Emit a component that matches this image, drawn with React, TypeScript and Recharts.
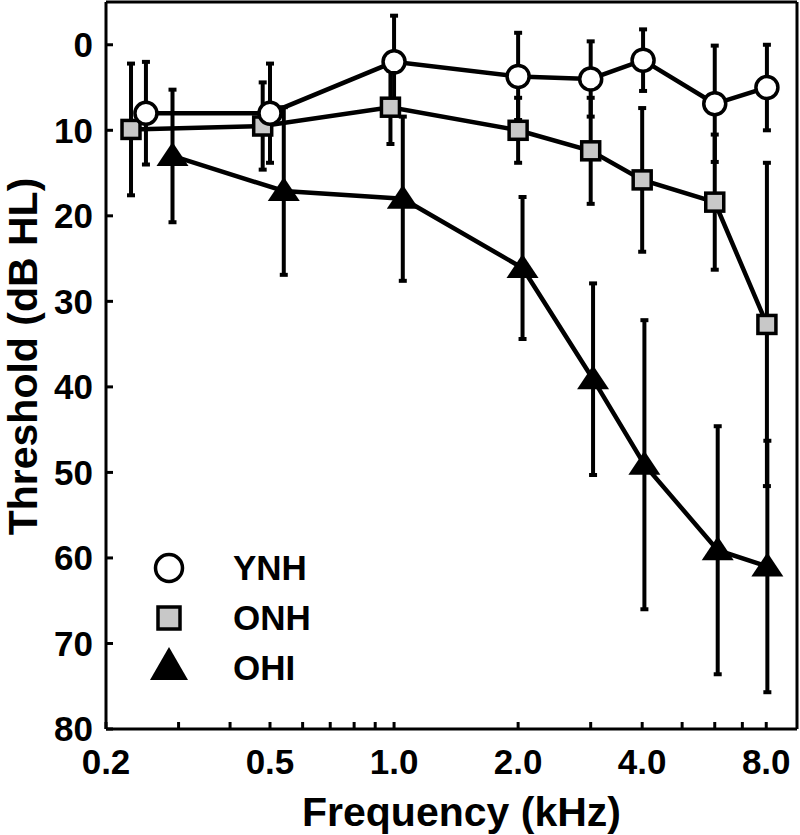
import { ErrorBar, Legend, Scatter, ScatterChart, XAxis, YAxis } from "recharts";

// frequencies are slightly jittered per group, as in the original figure
const ynhFreq = [0.25, 0.5, 1.0, 2.0, 3.0, 4.02, 6.0, 8.03];
const ynhThr = [8, 8, 2, 3.7, 4, 1.8, 6.9, 5];
const ynhSd = [6, 5.8, 5.4, 5.1, 4.4, 3.6, 6.8, 5];

const onhFreq = [0.23, 0.48, 0.98, 2.0, 3.0, 4.0, 6.0, 8.03];
const onhThr = [9.9, 9.5, 7.3, 10, 12.4, 15.8, 18.4, 32.7];
const onhSd = [7.7, 5.1, 4.3, 3.8, 6.2, 8.4, 7.9, 18.9];

const ohiFreq = [0.29, 0.54, 1.05, 2.05, 3.04, 4.05, 6.1, 8.05];
const ohiThr = [13, 17.1, 18, 26.1, 39.1, 49.1, 59.1, 61];
const ohiSd = [7.75, 9.8, 9.6, 8.3, 11.2, 16.9, 14.5, 14.7];

const freqTicks = [0.2, 0.3, 0.4, 0.5, 0.6, 0.7, 0.8, 0.9, 1, 2, 3, 4, 5, 6, 7, 8];
const freqLabels: Record<string, string> = {
  "0.2": "0.2",
  "0.5": "0.5",
  "1": "1.0",
  "2": "2.0",
  "4": "4.0",
  "8": "8.0",
};
const thrTicks = [0, 10, 20, 30, 40, 50, 60, 70, 80];

const FONT = "'Liberation Sans', Arial, Helvetica, sans-serif";

function rows(f: number[], v: number[], e: number[]) {
  return f.map((x, i) => ({ f: x, v: v[i], e: e[i] }));
}

const CircleMark = (p: any) => (
  <circle cx={p.cx} cy={p.cy} r={11} fill="#fff" stroke="#000" strokeWidth={3.5} />
);
const SquareMark = (p: any) => (
  <rect x={p.cx - 9} y={p.cy - 9} width={18} height={18} fill="#c8c8c8" stroke="#000" strokeWidth={3.5} />
);
const TriangleMark = (p: any) => (
  <polygon
    points={`${p.cx},${p.cy - 14} ${p.cx + 16},${p.cy + 10} ${p.cx - 16},${p.cy + 10}`}
    fill="#000"
  />
);

function LegendBox() {
  const txt = { fontFamily: FONT, fontWeight: 700, fontSize: 35, fill: "#000" };
  return (
    <svg width={200} height={150}>
      <circle cx={29} cy={28} r={13.5} fill="#fff" stroke="#000" strokeWidth={3.5} />
      <text x={93} y={40} {...txt}>YNH</text>
      <rect x={18} y={67} width={22} height={22} fill="#c8c8c8" stroke="#000" strokeWidth={3.5} />
      <text x={93} y={90} {...txt}>ONH</text>
      <polygon points="29,107 48,140 10,140" fill="#000" />
      <text x={93} y={140} {...txt}>OHI</text>
    </svg>
  );
}

const axisLine = { stroke: "#000", strokeWidth: 3 };
const tickStyle = { fill: "#000", fontSize: 35, fontWeight: 700, fontFamily: FONT };

// a series' joining line: Scatter passes its own props first, the line object last
const seriesLine = { stroke: "#000", strokeWidth: 4.5 };

function Bars() {
  return <ErrorBar dataKey="e" direction="y" width={4} stroke="#000" strokeWidth={4} />;
}

export default function App() {
  return (
    <div style={{ position: "absolute", left: 0, top: 0, background: "#fff" }}>
      <ScatterChart width={800} height={835} margin={{ top: 1, right: 2, bottom: 0, left: 0 }}>
        <XAxis
          dataKey="f"
          type="number"
          scale="log"
          domain={[0.2, 9.5]}
          allowDataOverflow
          ticks={freqTicks}
          interval={0}
          tickFormatter={(t: number) => freqLabels[String(t)] ?? ""}
          height={106}
          tickSize={-7}
          tickMargin={27}
          axisLine={axisLine}
          tickLine={axisLine}
          tick={tickStyle}
          label={{
            value: "Frequency (kHz)",
            position: "insideBottom",
            offset: 9,
            dx: 10,
            style: { fill: "#000", fontSize: 41, fontWeight: 700, fontFamily: FONT },
          }}
        />
        <XAxis
          xAxisId="top"
          orientation="top"
          type="number"
          scale="log"
          domain={[0.2, 9.5]}
          allowDataOverflow
          ticks={freqTicks}
          interval={0}
          height={1}
          tickSize={-7}
          tick={false}
          axisLine={axisLine}
          tickLine={axisLine}
        />
        <YAxis
          dataKey="v"
          type="number"
          reversed
          domain={[-5, 80]}
          allowDataOverflow
          ticks={thrTicks}
          interval={0}
          width={106}
          tickSize={-7}
          tickMargin={20}
          axisLine={axisLine}
          tickLine={axisLine}
          tick={tickStyle}
          label={{
            value: "Threshold (dB HL)",
            angle: -90,
            position: "center",
            dx: -31,
            dy: -9,
            style: { fill: "#000", fontSize: 41, fontWeight: 700, fontFamily: FONT },
          }}
        />
        <YAxis
          yAxisId="right"
          orientation="right"
          type="number"
          reversed
          domain={[-5, 80]}
          allowDataOverflow
          ticks={thrTicks}
          interval={0}
          width={1}
          tickSize={-7}
          tick={false}
          axisLine={axisLine}
          tickLine={axisLine}
        />
        <Scatter
          name="OHI"
          data={rows(ohiFreq, ohiThr, ohiSd)}
          line={seriesLine}
          lineType="joint"
          shape={TriangleMark}
          isAnimationActive={false}
        >
          {Bars()}
        </Scatter>
        <Scatter
          name="ONH"
          data={rows(onhFreq, onhThr, onhSd)}
          line={seriesLine}
          lineType="joint"
          shape={SquareMark}
          isAnimationActive={false}
        >
          {Bars()}
        </Scatter>
        <Scatter
          name="YNH"
          data={rows(ynhFreq, ynhThr, ynhSd)}
          line={seriesLine}
          lineType="joint"
          shape={CircleMark}
          isAnimationActive={false}
        >
          {Bars()}
        </Scatter>
        <Legend
          layout="vertical"
          align="center"
          verticalAlign="middle"
          content={() => <LegendBox />}
          wrapperStyle={{ left: 140, top: 540, width: 200, height: 150 }}
        />
      </ScatterChart>
    </div>
  );
}
